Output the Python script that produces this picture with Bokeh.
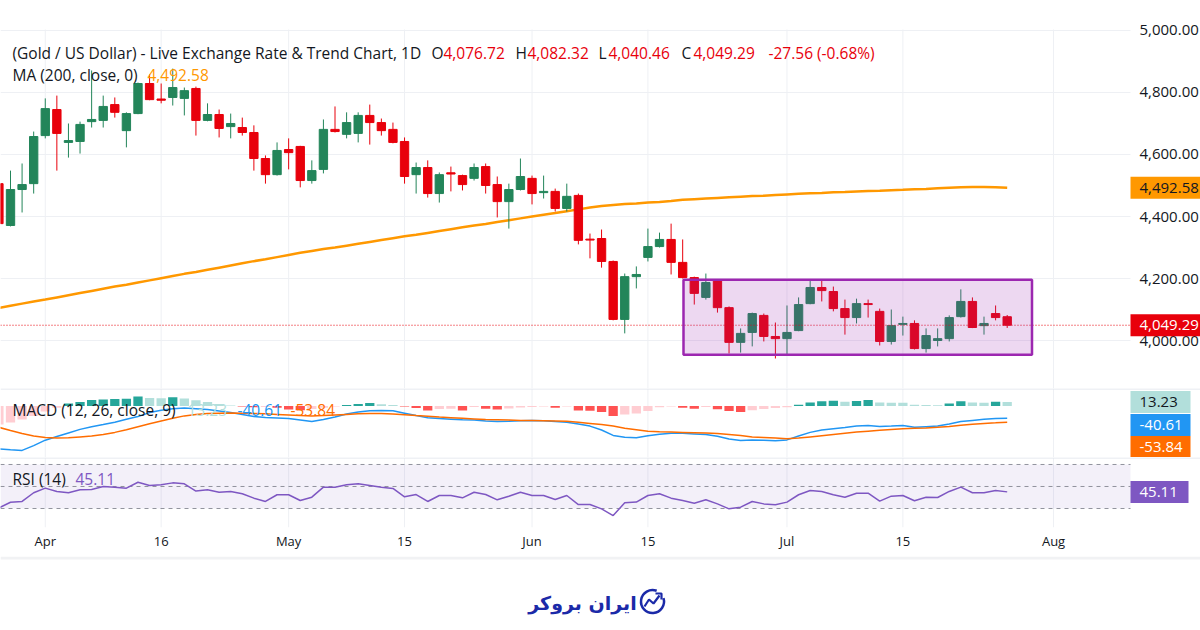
import pandas as pd
from bokeh.plotting import figure
from bokeh.models import (Range1d, FixedTicker, BoxAnnotation, Label, ColumnDataSource)
from bokeh.layouts import column
from bokeh.core.properties import value
from bokeh.embed import file_html
from bokeh.resources import INLINE

# ---------------- data (daily XAU/USD, one value per session) ----------------
first_session = "2026-03-26"
holidays = ["2026-04-03"]

opens = [4506, 4371, 4487, 4506, 4661, 4745, 4639, 4642, 4706, 4710,
         4761, 4677, 4732, 4829, 4779, 4784, 4781, 4813, 4710, 4729,
         4690, 4687, 4671, 4587, 4535, 4616, 4626, 4516, 4552, 4681,
         4665, 4668, 4726, 4703, 4681, 4642, 4535, 4558, 4474, 4541,
         4532, 4523, 4561, 4503, 4448, 4487, 4523, 4477, 4481, 4426,
         4468, 4327, 4329, 4255, 4068, 4206, 4268, 4303, 4326, 4252,
         4203, 4139, 4194, 4106, 3994, 4026, 4081, 4013, 4006, 4032,
         4119, 4171, 4158, 4103, 4074, 4119, 4094, 3997, 4052, 4055,
         3974, 4000, 4006, 4077, 4126, 4048, 4087, 4076.72]
highs = [4512, 4548, 4571, 4674, 4781, 4790, 4700, 4706, 4871, 4790,
         4784, 4736, 4832, 4858, 4829, 4877, 4816, 4819, 4765, 4745,
         4732, 4719, 4694, 4597, 4639, 4652, 4628, 4581, 4713, 4755,
         4736, 4736, 4761, 4716, 4703, 4655, 4574, 4581, 4542, 4561,
         4535, 4571, 4571, 4529, 4506, 4587, 4532, 4532, 4490, 4506,
         4474, 4345, 4358, 4258, 4216, 4239, 4361, 4348, 4377, 4326,
         4206, 4216, 4196, 4110, 4039, 4090, 4087, 4058, 4113, 4139,
         4197, 4197, 4174, 4132, 4135, 4132, 4103, 4100, 4077, 4065,
         4039, 4039, 4081, 4165, 4139, 4077, 4113, 4082.32]
lows = [4370, 4368, 4413, 4474, 4652, 4548, 4590, 4603, 4687, 4687,
        4719, 4623, 4730, 4775, 4765, 4758, 4726, 4661, 4707, 4655,
        4652, 4661, 4548, 4506, 4532, 4552, 4494, 4506, 4539, 4671,
        4652, 4639, 4632, 4661, 4636, 4506, 4474, 4461, 4445, 4481,
        4484, 4516, 4474, 4397, 4361, 4484, 4439, 4458, 4416, 4416,
        4310, 4265, 4235, 4065, 4023, 4168, 4255, 4300, 4213, 4200,
        4116, 4132, 4090, 3958, 3961, 3981, 3997, 3942, 3955, 4030,
        4117, 4126, 4094, 4019, 4055, 4074, 3984, 3987, 4016, 3971,
        3961, 3981, 3997, 4074, 4040, 4019, 4065, 4040.46]
closes = [4377, 4487, 4503, 4658, 4748, 4668, 4645, 4697, 4713, 4755,
          4736, 4732, 4829, 4777, 4775, 4816, 4806, 4710, 4729, 4684,
          4700, 4671, 4587, 4535, 4613, 4606, 4516, 4548, 4681, 4674,
          4703, 4726, 4703, 4677, 4639, 4529, 4558, 4474, 4535, 4537,
          4503, 4558, 4500, 4448, 4487, 4529, 4474, 4481, 4426, 4465,
          4323, 4324, 4255, 4068, 4206, 4213, 4303, 4326, 4252, 4203,
          4152, 4187, 4106, 3994, 4023, 4087, 4013, 4006, 4026, 4116,
          4171, 4161, 4103, 4074, 4119, 4116, 3997, 4048, 4055, 3974,
          4016, 4006, 4074, 4126, 4042, 4055, 4074, 4049.29]
ma200 = [4105, 4112, 4119, 4126, 4132, 4139, 4146, 4153, 4160, 4167,
         4174, 4180, 4187, 4194, 4201, 4208, 4215, 4221, 4228, 4235,
         4242, 4249, 4256, 4262, 4269, 4276, 4283, 4289, 4295, 4300,
         4306, 4312, 4318, 4324, 4330, 4336, 4341, 4347, 4353, 4359,
         4365, 4371, 4376, 4382, 4388, 4394, 4400, 4406, 4411, 4417,
         4423, 4429, 4434, 4437, 4440, 4442, 4445, 4447, 4450, 4454,
         4456, 4458, 4460, 4462, 4464, 4466, 4467, 4469, 4471, 4473,
         4475, 4476, 4478, 4479, 4481, 4482, 4483, 4485, 4486, 4488,
         4489, 4491, 4493, 4494, 4495, 4495, 4494, 4492.58]
macd_line = [-143, -146, -148, -132, -114, -102, -90, -78, -69, -62,
             -54, -44, -35, -22, -14, -9, -7, -9, -12, -17,
             -22, -28, -35, -38, -40, -42, -47, -52, -45, -37,
             -27, -20, -16, -15, -16, -24, -32, -39, -42, -44,
             -46, -47, -50, -52, -51, -49, -48, -49, -52, -54,
             -60, -67, -80, -98, -104, -106, -99, -94, -91, -91,
             -93, -95, -101, -110, -115, -113, -114, -116, -113, -100,
             -88, -80, -76, -72, -67, -65, -68, -67, -65, -71,
             -69, -67, -60, -52, -48, -44, -42, -40.61]
signal_line = [-71, -82, -92, -100, -105, -107, -106, -103, -100, -95,
               -88, -79, -69, -59, -50, -41, -33, -28, -25, -24,
               -23, -24, -25, -26, -28, -30, -32, -33, -32, -30,
               -28, -26, -25, -25, -27, -29, -32, -34, -37, -39,
               -41, -43, -45, -46, -47, -48, -48, -49, -50, -51,
               -54, -58, -62, -67, -74, -79, -84, -86, -87, -88,
               -89, -90, -92, -95, -98, -103, -105, -107, -109, -107,
               -103, -99, -95, -91, -87, -84, -81, -78, -76, -74,
               -73, -71, -68, -64, -61, -58, -56, -53.84]
macd_hist = [-62, -55, -45, -33, -18, -6, 8, 13, 20, 22,
             23, 24, 32, 27, 26, 29, 25, 19, 13, 7,
             2, -2, -4, -3, -6, -12, -14, -10, -6, -2,
             3, 7, 10, 6, 3, -2, -7, -15, -10, -9,
             -15, -3, -9, -12, -8, -5, -3, -2, -6, -2,
             -15, -16, -20, -33, -28, -25, -17, -4, -2, -6,
             -9, -3, -11, -17, -20, -14, -10, -7, -4, 4,
             12, 16, 17.5, 14, 17, 20, 12, 11, 10.5, 4,
             3, 2.5, 8, 16, 12, 11, 14, 13.23]
rsi14 = [30.5, 35.7, 36.4, 44.3, 48.5, 45.5, 44.3, 47.0, 47.3, 50.0,
         49.4, 48.5, 53.9, 50.9, 51.5, 53.3, 52.4, 45.8, 47.0, 44.8,
         45.5, 43.4, 39.4, 36.4, 42.5, 42.5, 37.3, 40.3, 49.4, 49.4,
         51.5, 52.4, 50.9, 49.4, 48.2, 40.6, 42.7, 36.4, 41.8, 41.8,
         39.7, 44.8, 42.7, 37.9, 41.2, 44.8, 41.8, 41.8, 38.2, 41.8,
         33.6, 33.6, 29.7, 23.6, 35.2, 35.8, 41.8, 43.4, 39.4, 37.3,
         34.8, 37.9, 34.2, 29.7, 31.2, 36.4, 34.2, 33.4, 35.8, 42.5,
         46.4, 45.5, 42.5, 40.3, 43.9, 43.9, 36.7, 41.2, 41.8, 37.0,
         40.3, 40.0, 45.5, 49.4, 44.3, 44.3, 46.4, 45.11]

tick_dates = ["2026-04-01", "2026-04-16", "2026-05-01", "2026-05-15", "2026-06-01",
              "2026-06-15", "2026-07-01", "2026-07-15", "2026-08-03"]
tick_labels = ["Apr", "16", "May", "15", "Jun", "15", "Jul", "15", "Aug"]
price_ticks = [4000, 4200, 4400, 4600, 4800, 5000]
rsi_levels = [30, 50, 70]

title_text = "(Gold / US Dollar) - Live Exchange Rate & Trend Chart, 1D"
ohlc_letters = ["O", "H", "L", "C"]
change_text = "-27.56 (-0.68%)"
ma_title = "MA (200, close, 0)"
macd_title = "MACD (12, 26, close, 9)"
rsi_title = "RSI (14)"
logo_text = "ایران بروکر"

# zone drawn on the chart (price bounds)
zone_top, zone_bottom = 4196, 3954

# ---------------- layout / style constants (pixels) ----------------
W = 1200
PLOT_W = 1130                     # right edge of the chart area, price scale to the right
CHART_TOP = 29                    # top of chart area (page px)
PRICE_H, MACD_H, RSI_H, FOOT_H = 388, 69, 99, 74
RSI_AXIS_H = 29
X0, X1 = 0.137, 97.64             # bar index at px 0 and px PLOT_W
XE = X0 + W * (X1 - X0) / PLOT_W  # bar index at px W
PS = (5003.2 - 3845.2) / 359      # price units per pixel
P_BOT = 3845.2
P_TOPC = P_BOT + PRICE_H * PS
M_TOP, M_BOT = 58.3, -171.7
R_TOP, R_BOT = 76.36, 12.73

FONT = "Open Sans"
LEG_SIZE = "15.5px"
BOX_SIZE = "15px"
TXT = "#131722"
UP = "#23855a"
DOWN = "#e8000b"
MA_C = "#ff9800"
MACD_C = "#2196f3"
SIG_C = "#ff6d00"
RSI_C = "#7e57c2"
GRID_C = "#eef0f4"
SEP_C = "#e0e3eb"
ZONE_C = "#9c27b0"
LOGO_C = "#1b2aa8"

sessions = [d for d in pd.bdate_range(first_session, periods=130)
            if d.strftime("%Y-%m-%d") not in holidays]
pos = {d.strftime("%Y-%m-%d"): i for i, d in enumerate(sessions)}
tick_idx = [pos[d] for d in tick_dates]
n = len(closes)
idx = list(range(n))


def px2x(px):
    return X0 + px * (X1 - X0) / PLOT_W


def py2price(py):
    return P_TOPC - py * PS


def py2macd(py):
    return M_TOP - (py - PRICE_H) * (M_TOP - M_BOT) / MACD_H


R_PS = (R_TOP - R_BOT) / (RSI_H - RSI_AXIS_H)


def py2rsi(py):
    return R_TOP - (py - PRICE_H - MACD_H) * R_PS


def add_label(p, px, y, text, color, size=LEG_SIZE):
    p.add_layout(Label(x=px2x(px), y=y, text=text, text_color=color, text_font=FONT,
                       text_font_size=size, text_align="left", text_baseline="middle"))


def value_box(p, yc, half, text, bg, fg, right_px):
    p.quad(left=[X1], right=[px2x(right_px)], bottom=[yc - half], top=[yc + half],
           fill_color=bg, line_color=None)
    p.text(x=[px2x(1139)], y=[yc], text=[text], text_color=fg, text_font=value(FONT),
           text_font_size=BOX_SIZE, text_align="left", text_baseline="middle")


xr = Range1d(X0, XE)


def base_fig(height, y_range, x_loc=None, min_bottom=0):
    p = figure(width=W, height=height, x_range=xr, y_range=y_range,
               output_backend="svg", toolbar_location=None,
               x_axis_location=x_loc, y_axis_location=None,
               min_border_left=0, min_border_right=0,
               min_border_top=0, min_border_bottom=min_bottom)
    p.outline_line_color = None
    p.background_fill_color = "white"
    p.border_fill_color = "white"
    p.xgrid.visible = False
    p.ygrid.visible = False
    return p


def vgrid(p, y0, y1):
    p.segment(x0=tick_idx, x1=tick_idx, y0=y0, y1=y1, line_color=GRID_C, line_width=1)


# ---------------- price pane ----------------
pp = base_fig(PRICE_H, Range1d(P_BOT, P_TOPC))
chart_top_price = py2price(CHART_TOP)
vgrid(pp, P_BOT, chart_top_price)
pp.segment(x0=X0, x1=X1, y0=price_ticks, y1=price_ticks, line_color=GRID_C, line_width=1)
pp.text(x=px2x(1139), y=price_ticks, text=[f"{t:,.2f}" for t in price_ticks],
        text_color=TXT, text_font=value(FONT), text_font_size=BOX_SIZE,
        text_align="left", text_baseline="middle")

colors = [UP if c >= o else DOWN for o, c in zip(opens, closes)]
src = ColumnDataSource(dict(
    x=idx, h=highs, l=lows,
    top=[max(o, c) for o, c in zip(opens, closes)],
    bottom=[min(o, c) for o, c in zip(opens, closes)],
    color=colors))
pp.line(idx, ma200, line_color=MA_C, line_width=2.5)
pp.segment(x0="x", y0="h", x1="x", y1="l", line_color="color", line_width=1, source=src)
pp.vbar(x="x", width=0.72, top="top", bottom="bottom", fill_color="color",
        line_color="color", line_width=1, source=src)
pp.segment(x0=[X0], x1=[X1], y0=[closes[-1]], y1=[closes[-1]], line_color=DOWN,
           line_dash="1 2", line_width=1)
pp.add_layout(BoxAnnotation(left=px2x(683), right=px2x(1031.5), top=zone_top, bottom=zone_bottom,
                            fill_color=ZONE_C, fill_alpha=0.18, line_color=ZONE_C,
                            line_width=2.5, line_alpha=1.0))

# legend lines
ly1, ly2 = py2price(52), py2price(74)
add_label(pp, 12, ly1, title_text, TXT)
ohlc_vals = [opens[-1], highs[-1], lows[-1], closes[-1]]
for letter, val, lx, vx in zip(ohlc_letters, ohlc_vals, [431, 515, 598, 681], [443, 527, 608, 693]):
    add_label(pp, lx, ly1, letter, TXT)
    add_label(pp, vx, ly1, f"{val:,.2f}", DOWN)
add_label(pp, 768, ly1, change_text, DOWN)
add_label(pp, 12, ly2, ma_title, TXT)
add_label(pp, 147, ly2, f"{ma200[-1]:,.2f}", MA_C)

# price scale value boxes
half_p = 11 * PS
value_box(pp, ma200[-1], half_p, f"{ma200[-1]:,.2f}", MA_C, TXT, 1200)
value_box(pp, closes[-1], half_p, f"{closes[-1]:,.2f}", DOWN, "white", 1200)

# ---------------- MACD pane ----------------
pm = base_fig(MACD_H, Range1d(M_BOT, M_TOP))
vgrid(pm, M_BOT, M_TOP)
hist_colors = []
for i, h in enumerate(macd_hist):
    prev = macd_hist[i - 1] if i > 0 else h
    if h >= 0:
        hist_colors.append("#26a69a" if h > prev else "#b2dfdb")
    else:
        hist_colors.append("#ff5252" if h < prev else "#ffcdd2")
pm.vbar(x=idx, top=macd_hist, bottom=0, width=0.8, fill_color=hist_colors, line_color=None)
pm.line(idx, macd_line, line_color=MACD_C, line_width=1.5)
pm.line(idx, signal_line, line_color=SIG_C, line_width=1.5)
pm.segment(x0=[X0], x1=[XE], y0=[M_TOP - 0.5 * (M_TOP - M_BOT) / MACD_H],
           y1=[M_TOP - 0.5 * (M_TOP - M_BOT) / MACD_H], line_color=SEP_C, line_width=1)
my = py2macd(409)
add_label(pm, 12, my, macd_title, TXT)
add_label(pm, 187, my, f"{macd_hist[-1]:.2f}", "#b2dfdb")
add_label(pm, 237, my, f"{macd_line[-1]:.2f}", MACD_C)
add_label(pm, 290, my, f"{signal_line[-1]:.2f}", SIG_C)
half_m = 11 * (M_TOP - M_BOT) / MACD_H
value_box(pm, py2macd(401.5), half_m, f"{macd_hist[-1]:.2f}", "#b2dfdb", TXT, 1190)
value_box(pm, py2macd(424.5), half_m, f"{macd_line[-1]:.2f}", MACD_C, "white", 1190)
value_box(pm, py2macd(446.5), half_m, f"{signal_line[-1]:.2f}", SIG_C, "white", 1190)

# ---------------- RSI pane ----------------
pr = base_fig(RSI_H, Range1d(R_BOT, R_TOP), x_loc="below", min_bottom=RSI_AXIS_H)
vgrid(pr, R_BOT, R_TOP)
pr.quad(left=[X0], right=[X1], bottom=[rsi_levels[0]], top=[rsi_levels[-1]],
        fill_color=RSI_C, fill_alpha=0.09, line_color=None)
pr.segment(x0=X0, x1=X1, y0=rsi_levels, y1=rsi_levels, line_color="#787b86",
           line_alpha=0.8, line_dash="4 4", line_width=1)
pr.line(idx, rsi14, line_color=RSI_C, line_width=1.5)
pr.segment(x0=[X0], x1=[XE], y0=[R_TOP - 0.5 * R_PS], y1=[R_TOP - 0.5 * R_PS],
           line_color=SEP_C, line_width=1)
ry = py2rsi(478)
add_label(pr, 12, ry, rsi_title, TXT)
add_label(pr, 75, ry, f"{rsi14[-1]:.2f}", RSI_C)
value_box(pr, rsi14[-1], 11 * R_PS, f"{rsi14[-1]:.2f}", RSI_C, "white", 1188)

xa = pr.xaxis[0]
xa.ticker = FixedTicker(ticks=tick_idx)
xa.major_label_overrides = {t: lab for t, lab in zip(tick_idx, tick_labels)}
xa.major_label_text_font = FONT
xa.major_label_text_font_size = "13px"
xa.major_label_text_color = TXT
xa.major_label_standoff = 4
xa.major_tick_out = 0
xa.major_tick_in = 0
xa.minor_tick_out = 0
xa.minor_tick_in = 0
xa.axis_line_color = None

# ---------------- footer with logo ----------------
pf = figure(width=W, height=FOOT_H, x_range=Range1d(0, W), y_range=Range1d(0, FOOT_H),
            output_backend="svg", toolbar_location=None,
            x_axis_location=None, y_axis_location=None,
            min_border_left=0, min_border_right=0, min_border_top=0, min_border_bottom=0)
pf.outline_line_color = None
pf.xgrid.visible = False
pf.ygrid.visible = False
pf.quad(left=[0], right=[W], bottom=[FOOT_H - 3], top=[FOOT_H], fill_color="#f1f2f4", line_color=None)
pf.text(x=[582], y=[28], text=[logo_text], text_font=value("DejaVu Sans"),
        text_font_style="bold", text_font_size="19px", text_color=LOGO_C,
        text_align="center", text_baseline="middle")
pf.arc(x=[652], y=[29], radius=11.5, start_angle=1.2, end_angle=0.3,
       line_color=LOGO_C, line_width=2.5)
pf.line(x=[644, 648.5, 653, 659], y=[24, 31, 27, 35], line_color=LOGO_C, line_width=2.2)
pf.line(x=[655, 661, 661], y=[37, 37, 31], line_color=LOGO_C, line_width=2.2)

layout = column(pp, pm, pr, pf)
open("out.html", "w").write(file_html(layout, INLINE))
